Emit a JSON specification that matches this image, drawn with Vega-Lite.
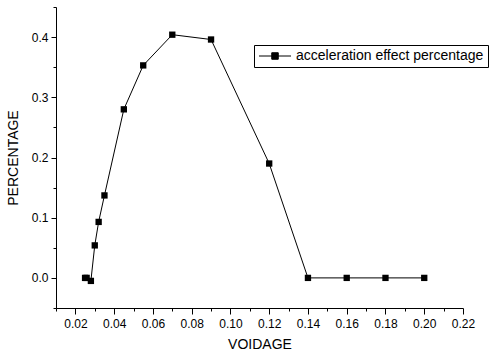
{
  "$schema": "https://vega.github.io/schema/vega-lite/v6.json",
  "width": 407,
  "height": 301,
  "autosize": "none",
  "padding": {"left": 56, "top": 7, "right": 26, "bottom": 48},
  "background": "white",
  "config": {
    "view": {"stroke": null},
    "font": "Liberation Sans",
    "axis": {
      "grid": false,
      "domainColor": "black",
      "tickColor": "black",
      "labelColor": "black",
      "titleColor": "black",
      "labelFont": "Liberation Sans",
      "titleFont": "Liberation Sans",
      "labelFontSize": 12,
      "titleFontSize": 14,
      "titleFontWeight": "normal",
      "domainWidth": 1,
      "tickWidth": 1
    }
  },
  "data": {
    "values": [
      {"voidage": 0.025, "pct": 0.0, "series": "acceleration effect percentage"},
      {"voidage": 0.0258, "pct": 0.0, "series": "acceleration effect percentage"},
      {"voidage": 0.028, "pct": -0.005, "series": "acceleration effect percentage"},
      {"voidage": 0.03, "pct": 0.054, "series": "acceleration effect percentage"},
      {"voidage": 0.032, "pct": 0.093, "series": "acceleration effect percentage"},
      {"voidage": 0.035, "pct": 0.137, "series": "acceleration effect percentage"},
      {"voidage": 0.045, "pct": 0.28, "series": "acceleration effect percentage"},
      {"voidage": 0.055, "pct": 0.353, "series": "acceleration effect percentage"},
      {"voidage": 0.07, "pct": 0.404, "series": "acceleration effect percentage"},
      {"voidage": 0.09, "pct": 0.396, "series": "acceleration effect percentage"},
      {"voidage": 0.12, "pct": 0.19, "series": "acceleration effect percentage"},
      {"voidage": 0.14, "pct": 0.0, "series": "acceleration effect percentage"},
      {"voidage": 0.16, "pct": 0.0, "series": "acceleration effect percentage"},
      {"voidage": 0.18, "pct": 0.0, "series": "acceleration effect percentage"},
      {"voidage": 0.2, "pct": 0.0, "series": "acceleration effect percentage"}
    ]
  },
  "encoding": {
    "x": {
      "field": "voidage",
      "type": "quantitative",
      "scale": {"domain": [0.01, 0.22], "nice": false, "zero": false},
      "axis": {
        "title": "VOIDAGE",
        "values": [0.01, 0.02, 0.03, 0.04, 0.05, 0.06, 0.07, 0.08, 0.09, 0.1, 0.11, 0.12, 0.13, 0.14, 0.15, 0.16, 0.17, 0.18, 0.19, 0.2, 0.21, 0.22],
        "labelExpr": "round(datum.value*100) % 2 == 0 ? format(datum.value, '.2f') : ''",
        "tickSize": {"condition": {"test": "round(datum.value*100) % 2 == 0", "value": 6}, "value": 3},
        "labelPadding": 4,
        "titlePadding": 8,
        "labelFlush": false,
        "labelOverlap": false
      }
    },
    "y": {
      "field": "pct",
      "type": "quantitative",
      "scale": {"domain": [-0.05, 0.45], "nice": false, "zero": false},
      "axis": {
        "title": "PERCENTAGE",
        "values": [-0.05, 0.0, 0.05, 0.1, 0.15, 0.2, 0.25, 0.3, 0.35, 0.4, 0.45],
        "labelExpr": "round(datum.value*20) % 2 == 0 ? format(datum.value, '.1f') : ''",
        "tickSize": {"condition": {"test": "round(datum.value*20) % 2 == 0", "value": 5}, "value": 3},
        "labelPadding": 3,
        "titlePadding": 11,
        "labelFlush": false,
        "labelOverlap": false
      }
    }
  },
  "layer": [
    {
      "mark": {"type": "line", "color": "black", "strokeWidth": 1}
    },
    {
      "mark": {"type": "point", "shape": "square", "filled": true, "size": 40, "opacity": 1},
      "encoding": {
        "color": {
          "field": "series",
          "type": "nominal",
          "scale": {"range": ["black"]},
          "legend": {
            "title": null,
            "orient": "none",
            "legendX": 198,
            "legendY": 38,
            "padding": 4,
            "strokeColor": "black",
            "fillColor": "white",
            "symbolType": "M-1.714,0H7.43M1.93,-0.93H3.79V0.93H1.93Z",
            "symbolSize": 49,
            "symbolFillColor": "black",
            "symbolStrokeColor": "black",
            "symbolStrokeWidth": 1,
            "symbolOpacity": 1,
            "labelOffset": 24,
            "labelFontSize": 14,
            "labelFont": "Liberation Sans",
            "labelColor": "black",
            "labelLimit": 400
          }
        }
      }
    }
  ]
}
